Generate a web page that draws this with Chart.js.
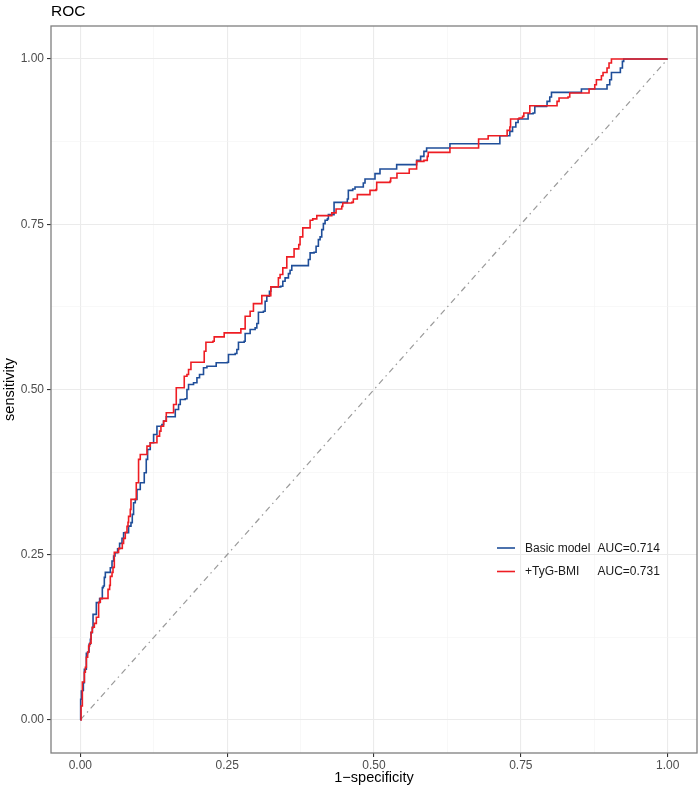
<!DOCTYPE html>
<html>
<head>
<meta charset="utf-8">
<script src="https://cdn.jsdelivr.net/npm/chart.js@4/dist/chart.umd.min.js"></script>
<style>
  html, body { margin: 0; padding: 0; background: #ffffff; }
  #wrap { width: 700px; height: 793px; position: relative; }
</style>
</head>
<body>
<div id="wrap"><canvas id="c" width="700" height="793"></canvas></div>
<script>
// ---- data (fpr, tpr) ----
const seriesNames = ['Basic model', '+TyG-BMI'];
const aucLabels = ['AUC=0.714', 'AUC=0.731'];
const majorTicks = [0, 0.25, 0.5, 0.75, 1];
const tickLabels = ['0.00', '0.25', '0.50', '0.75', '1.00'];
const chanceLine = [[0, 0], [1, 1]];

const basicRoc = [[0,0],[0.0005,0.0313],[0.0017,0.0438],[0.0039,0.0449],[0.0051,0.0565],[0.0068,0.0767],[0.0102,0.1008],[0.0124,0.1028],[0.0148,0.1145],[0.017,0.122],[0.0182,0.1321],[0.0204,0.1397],[0.0216,0.1598],[0.025,0.1598],[0.0272,0.1775],[0.0306,0.1775],[0.0328,0.1836],[0.0374,0.2002],[0.0391,0.2026],[0.0408,0.2158],[0.0425,0.2233],[0.0498,0.2233],[0.051,0.2304],[0.0539,0.2404],[0.0566,0.248],[0.059,0.2531],[0.0634,0.2591],[0.0668,0.2672],[0.0709,0.2747],[0.0736,0.2833],[0.0821,0.2933],[0.0862,0.2985],[0.0884,0.311],[0.0906,0.3287],[0.0935,0.3337],[0.0964,0.3488],[0.102,0.3589],[0.1088,0.3741],[0.1122,0.3942],[0.1145,0.4093],[0.119,0.4194],[0.1247,0.432],[0.1304,0.4445],[0.1389,0.4471],[0.1417,0.4521],[0.1463,0.4587],[0.1587,0.4587],[0.1616,0.4698],[0.1672,0.4773],[0.1701,0.4849],[0.1786,0.4859],[0.1815,0.5],[0.1842,0.5076],[0.1927,0.5101],[0.1985,0.5177],[0.2029,0.5227],[0.2097,0.5328],[0.2155,0.5352],[0.2296,0.5352],[0.2313,0.5404],[0.2505,0.5413],[0.2522,0.5529],[0.2636,0.5544],[0.2665,0.5605],[0.2692,0.5715],[0.2789,0.573],[0.2806,0.5847],[0.2891,0.5907],[0.2976,0.5933],[0.3005,0.5998],[0.3032,0.6169],[0.3117,0.6184],[0.3146,0.6335],[0.3175,0.6411],[0.322,0.6486],[0.3243,0.6553],[0.3413,0.6562],[0.3447,0.6637],[0.3486,0.6689],[0.3543,0.6754],[0.3571,0.6804],[0.36,0.6875],[0.3855,0.6875],[0.3883,0.6966],[0.3912,0.7067],[0.398,0.7076],[0.4014,0.7167],[0.4053,0.7268],[0.4082,0.7309],[0.411,0.7419],[0.4138,0.751],[0.4167,0.756],[0.4206,0.7581],[0.4223,0.7646],[0.432,0.7832],[0.4524,0.7832],[0.4546,0.7883],[0.4563,0.8013],[0.4638,0.8034],[0.4677,0.8065],[0.4818,0.8125],[0.4847,0.8186],[0.5017,0.8266],[0.5102,0.8337],[0.5386,0.8402],[0.5697,0.8402],[0.5726,0.8467],[0.5794,0.8527],[0.585,0.8603],[0.5896,0.8654],[0.6281,0.8654],[0.6293,0.8719],[0.7131,0.8719],[0.7143,0.884],[0.7245,0.884],[0.7313,0.8905],[0.7359,0.8972],[0.7415,0.9041],[0.7454,0.9093],[0.7597,0.9093],[0.7624,0.9173],[0.7709,0.9184],[0.7738,0.9283],[0.7937,0.9294],[0.7947,0.9359],[0.7993,0.9426],[0.8022,0.9495],[0.8503,0.9495],[0.8532,0.9546],[0.8946,0.9546],[0.8968,0.9611],[0.9014,0.9687],[0.9043,0.9797],[0.9172,0.9797],[0.9195,0.9864],[0.923,0.9964],[0.9252,1],[1,1]];

const tygRoc = [[0,0],[0.0012,0.0212],[0.0034,0.0575],[0.0068,0.0575],[0.0068,0.0721],[0.0085,0.0797],[0.0102,0.0948],[0.0124,0.1024],[0.0141,0.1119],[0.0158,0.116],[0.0182,0.1326],[0.0204,0.1402],[0.0238,0.1462],[0.0267,0.1462],[0.0272,0.1553],[0.0311,0.178],[0.034,0.184],[0.0471,0.184],[0.0471,0.1976],[0.0498,0.2037],[0.051,0.2173],[0.0539,0.2233],[0.0556,0.2309],[0.0578,0.2536],[0.0634,0.2536],[0.0651,0.2596],[0.0697,0.2596],[0.0714,0.2672],[0.0736,0.2747],[0.0765,0.2838],[0.0794,0.2929],[0.0811,0.2989],[0.0821,0.308],[0.085,0.3186],[0.0862,0.3337],[0.0952,0.3589],[0.0991,0.3942],[0.102,0.4017],[0.1105,0.4017],[0.1134,0.4143],[0.119,0.4194],[0.1304,0.4294],[0.1349,0.437],[0.1372,0.4445],[0.1417,0.4521],[0.1463,0.4648],[0.156,0.4648],[0.1587,0.4773],[0.1633,0.5026],[0.1701,0.5026],[0.1769,0.5201],[0.1815,0.5227],[0.1842,0.5302],[0.1883,0.5413],[0.2097,0.5413],[0.2109,0.5579],[0.2138,0.5715],[0.2257,0.573],[0.2279,0.5797],[0.2415,0.5797],[0.2449,0.5857],[0.2709,0.5857],[0.2733,0.5918],[0.2806,0.6108],[0.2891,0.6184],[0.2947,0.63],[0.3073,0.63],[0.309,0.6421],[0.3175,0.6421],[0.3243,0.6553],[0.3372,0.6689],[0.3401,0.6739],[0.3447,0.684],[0.3515,0.7006],[0.3617,0.7006],[0.3639,0.7127],[0.3719,0.7192],[0.3741,0.7309],[0.3787,0.7445],[0.3883,0.7445],[0.3912,0.756],[0.3957,0.7581],[0.4026,0.7631],[0.4252,0.7631],[0.4281,0.7672],[0.4354,0.7732],[0.4451,0.7771],[0.4468,0.7823],[0.4621,0.7832],[0.4648,0.7883],[0.4716,0.7948],[0.4915,0.7948],[0.4932,0.8013],[0.5034,0.8024],[0.5046,0.8134],[0.5272,0.8149],[0.5284,0.8201],[0.5374,0.8201],[0.5391,0.8273],[0.5583,0.8273],[0.56,0.8337],[0.5726,0.8452],[0.585,0.8467],[0.5907,0.8527],[0.5923,0.8588],[0.6281,0.8588],[0.6293,0.8654],[0.6757,0.8654],[0.6781,0.879],[0.6927,0.879],[0.6944,0.884],[0.7245,0.884],[0.7267,0.892],[0.7313,0.8972],[0.7325,0.9093],[0.7471,0.9108],[0.7529,0.9132],[0.7551,0.9184],[0.7653,0.9294],[0.8107,0.9294],[0.8117,0.9359],[0.8151,0.941],[0.8304,0.9426],[0.8333,0.9486],[0.8645,0.9486],[0.8662,0.9546],[0.8759,0.9611],[0.8787,0.9687],[0.8872,0.9747],[0.89,0.9797],[0.8968,0.9864],[0.9002,0.994],[0.9043,1],[1,1]];

// ---- styles ----
const seriesColors = ['#1f4e99', '#ee1d23'];
const FONT = "'Liberation Sans', Arial, Helvetica, sans-serif";
Chart.defaults.font.family = FONT;

const toXY = arr => arr.map(p => ({ x: p[0], y: p[1] }));
const isMajor = v => majorTicks.some(m => Math.abs(m - v) < 1e-9);
const allTicks = [];
majorTicks.forEach((m, i) => {
  allTicks.push(m);
  if (i < majorTicks.length - 1) allTicks.push((m + majorTicks[i + 1]) / 2);
});

function axisOptions(title, isX) {
  return {
    type: 'linear',
    min: -0.05,
    max: 1.05,
    afterBuildTicks: s => { s.ticks = allTicks.map(v => ({ value: v })); },
    afterFit: s => { if (isX) s.height = 40; else s.width = 51; },
    border: { display: false },
    grid: {
      color: c => isMajor(c.tick.value) ? '#ebebeb' : '#f3f3f3',
      lineWidth: c => isMajor(c.tick.value) ? 1.1 : 0.6,
      tickColor: c => isMajor(c.tick.value) ? '#333333' : 'rgba(0,0,0,0)',
      tickLength: 4,
      drawTicks: true
    },
    ticks: {
      autoSkip: false,
      maxRotation: 0,
      padding: isX ? 1 : 3,
      color: '#4d4d4d',
      font: { size: 12, family: FONT },
      callback: v => {
        const i = majorTicks.findIndex(m => Math.abs(m - v) < 1e-9);
        return i >= 0 ? tickLabels[i] : '';
      }
    },
    title: {
      display: true,
      text: title,
      color: '#000000',
      font: { size: 14.5, family: FONT },
      padding: isX ? { top: 0, bottom: 6 } : { top: 1, bottom: 0 }
    }
  };
}

const panelPlugin = {
  id: 'panel',
  beforeDraw(chart) {
    const ctx = chart.ctx;
    ctx.save();
    ctx.fillStyle = '#ffffff';
    ctx.fillRect(0, 0, chart.width, chart.height);
    ctx.restore();
  },
  afterDraw(chart) {
    const ctx = chart.ctx;
    const a = chart.chartArea;
    ctx.save();
    // panel border
    ctx.strokeStyle = '#7f7f7f';
    ctx.lineWidth = 1.3;
    ctx.strokeRect(a.left, a.top, a.right - a.left, a.bottom - a.top);
    // title
    ctx.fillStyle = '#000000';
    ctx.font = '15.5px ' + FONT;
    ctx.textBaseline = 'alphabetic';
    ctx.textAlign = 'left';
    ctx.fillText('ROC', a.left, 15.5);
    // legend inside panel
    const lx0 = a.left + 446, lx1 = a.left + 464;
    const rows = [a.top + 522, a.top + 545.5];
    ctx.font = '12px ' + FONT;
    ctx.textBaseline = 'middle';
    rows.forEach((yy, i) => {
      ctx.strokeStyle = seriesColors[i];
      ctx.lineWidth = 1.6;
      ctx.beginPath();
      ctx.moveTo(lx0, yy);
      ctx.lineTo(lx1, yy);
      ctx.stroke();
      ctx.fillStyle = '#1a1a1a';
      ctx.fillText(seriesNames[i], a.left + 474, yy + 0.5);
      ctx.fillText(aucLabels[i], a.left + 546.5, yy + 0.5);
    });
    ctx.restore();
  }
};

new Chart(document.getElementById('c'), {
  type: 'scatter',
  data: {
    datasets: [
      {
        label: seriesNames[1],
        data: toXY(tygRoc),
        showLine: true,
        stepped: 'before',
        borderColor: seriesColors[1],
        borderWidth: 1.6,
        pointRadius: 0,
        order: 0
      },
      {
        label: seriesNames[0],
        data: toXY(basicRoc),
        showLine: true,
        stepped: 'before',
        borderColor: seriesColors[0],
        borderWidth: 1.6,
        pointRadius: 0,
        order: 1
      },
      {
        label: 'chance',
        data: toXY(chanceLine),
        showLine: true,
        borderColor: '#9a9a9a',
        borderWidth: 1.2,
        borderDash: [6, 4, 1.5, 4],
        pointRadius: 0,
        order: 2
      }
    ]
  },
  options: {
    responsive: false,
    animation: false,
    devicePixelRatio: 1,
    layout: { padding: { top: 26, right: 3, left: 0, bottom: 0 } },
    plugins: {
      legend: { display: false },
      tooltip: { enabled: false },
      title: { display: false }
    },
    scales: {
      x: axisOptions('1\u2212specificity', true),
      y: axisOptions('sensitivity', false)
    }
  },
  plugins: [panelPlugin]
});
</script>
</body>
</html>
